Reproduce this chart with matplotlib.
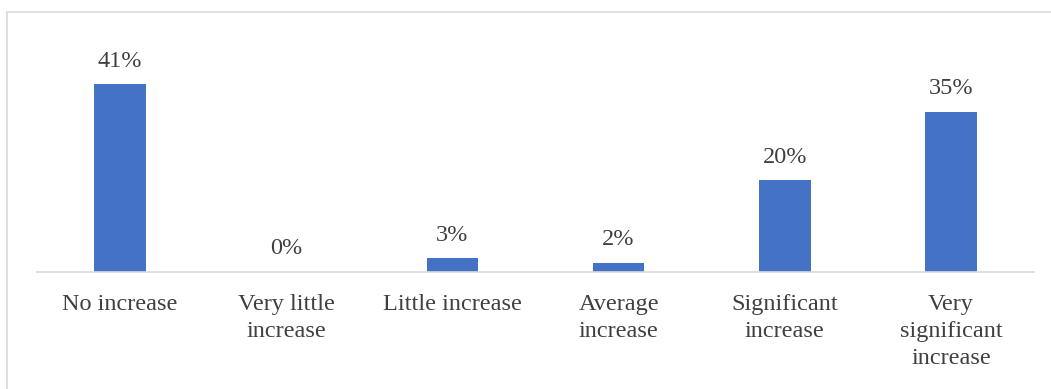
import matplotlib.pyplot as plt
from matplotlib.patches import Rectangle

categories = ["No increase", "Very little\nincrease", "Little increase",
              "Average\nincrease", "Significant\nincrease", "Very\nsignificant\nincrease"]
values = [41, 0, 3, 2, 20, 35]
labels = ["41%", "0%", "3%", "2%", "20%", "35%"]

plt.rcParams['font.family'] = ['Liberation Serif', 'DejaVu Serif']
text_color = '#404040'

fig = plt.figure(figsize=(10.51, 3.89), dpi=100)
# chart border (light gray, cut off at right/bottom like the reference)
fig.patches.append(Rectangle((7/1051, -0.1), 1.1, (389-12)/389 + 0.1,
                             transform=fig.transFigure, fill=False,
                             edgecolor='#D9D9D9', linewidth=1.2))

ax = fig.add_axes([37/1051, (389-272)/389, (1034-37)/1051, 0.53])
x = range(len(categories))
bars = ax.bar(x, values, width=0.31, color='#4472C4')
for b, lab in zip(bars, labels):
    ax.annotate(lab, (b.get_x() + b.get_width()/2, b.get_height()),
                xytext=(0, 9), textcoords='offset points',
                ha='center', va='bottom', fontsize=17.5, color=text_color)

ax.set_xlim(-0.5, len(categories) - 0.5)
ax.set_ylim(0, 45)
ax.set_xticks(list(x))
ax.set_xticklabels(categories, fontsize=17.5, color=text_color, linespacing=1.37)
ax.tick_params(axis='x', length=0, pad=16)
ax.set_yticks([])
for s in ['top', 'right', 'left']:
    ax.spines[s].set_visible(False)
ax.spines['bottom'].set_color('#D9D9D9')
ax.spines['bottom'].set_linewidth(1.2)

plt.savefig("out.png", dpi=100)
